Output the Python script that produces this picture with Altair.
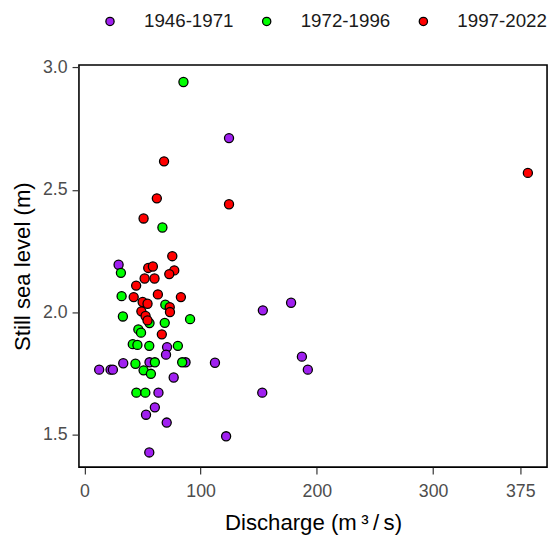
import altair as alt
import pandas as pd

periods = ["1946-1971", "1972-1996", "1997-2022"]
colors = ["#A020F0", "#00FF00", "#FF0000"]

p1_x = [29.4, 12.7, 22.5, 24.5, 33.4, 56.0, 87.0, 112.3, 71.1, 70.2, 76.8, 63.7,
        60.6, 53.0, 70.8, 55.8, 124.4, 153.5, 177.8, 187.1, 192.2, 153.0, 121.9]
p1_y = [2.194, 1.766, 1.766, 1.766, 1.792, 1.796, 1.796, 1.794, 1.858, 1.827, 1.734, 1.672,
        1.612, 1.582, 1.550, 1.428, 2.711, 2.008, 2.039, 1.819, 1.766, 1.672, 1.494]

p2_x = [85.2, 67.1, 31.4, 32.0, 69.6, 33.1, 56.0, 69.1, 90.9, 46.4, 48.7, 41.6,
        45.6, 55.8, 80.4, 43.9, 60.6, 84.1, 50.9, 57.2, 44.7, 52.4]
p2_y = [2.940, 2.346, 2.161, 2.066, 2.031, 1.983, 1.956, 1.957, 1.972, 1.930, 1.917, 1.870,
        1.867, 1.863, 1.863, 1.790, 1.796, 1.796, 1.763, 1.749, 1.672, 1.672]

p3_x = [68.5, 62.3, 50.9, 124.4, 381.5, 75.6, 54.9, 58.9, 77.3, 73.0, 51.8, 60.3,
        44.5, 42.4, 63.2, 83.0, 50.1, 54.3, 73.4, 73.6, 49.0, 52.6, 54.3, 66.6]
p3_y = [2.616, 2.465, 2.383, 2.441, 2.569, 2.229, 2.181, 2.187, 2.171, 2.156, 2.138, 2.138,
        2.109, 2.062, 2.073, 2.062, 2.042, 2.035, 2.021, 2.001, 2.004, 1.985, 1.967, 1.910]

x_ticks = [0, 100, 200, 300, 375]
y_ticks = [1.5, 2.0, 2.5, 3.0]

rows = []
for per, xs, ys in zip(periods, [p1_x, p2_x, p3_x], [p1_y, p2_y, p3_y]):
    for a, b in zip(xs, ys):
        rows.append({"Discharge": a, "Level": b, "Period": per})
df = pd.DataFrame(rows)
df["order"] = range(len(df))

font = "Liberation Sans"

chart = alt.Chart(df).mark_point(
    filled=True, size=85, stroke="black", strokeWidth=1.3, opacity=1
).encode(
    x=alt.X("Discharge:Q",
            scale=alt.Scale(domain=[-4.7, 398], nice=False, zero=False),
            axis=alt.Axis(values=x_ticks, title="Discharge (m\u2009³\u2009/\u2009s)", grid=False,
                          domain=False, tickColor="#333333", tickSize=7, tickWidth=1.2,
                          labelColor="#4d4d4d", labelFontSize=18, labelFont=font,
                          titleFont=font, titleFontSize=22.5, titleFontWeight="normal",
                          titleColor="black", labelPadding=9, titlePadding=11)),
    y=alt.Y("Level:Q",
            scale=alt.Scale(domain=[1.368, 3.009], nice=False, zero=False),
            axis=alt.Axis(values=y_ticks, format=".1f", title="Still sea level (m)",
                          grid=False, domain=False, tickColor="#333333", tickSize=7,
                          tickWidth=1.2,
                          labelColor="#4d4d4d", labelFontSize=18, labelFont=font,
                          titleFont=font, titleFontSize=22.5, titleFontWeight="normal",
                          titleColor="black", labelPadding=5, titlePadding=8)),
    color=alt.Color("Period:N",
                    scale=alt.Scale(domain=periods, range=colors),
                    legend=alt.Legend(title=None, orient="none", direction="horizontal",
                                      legendX=22, legendY=-54, labelFont=font,
                                      labelFontSize=19, labelColor="#1a1a1a",
                                      symbolType="circle", symbolSize=70,
                                      symbolStrokeColor="black", symbolStrokeWidth=1.3,
                                      symbolOpacity=1, labelOffset=25,
                                      columnPadding=24)),
    order=alt.Order("order:Q"),
).properties(
    width=475, height=408,
    autosize=alt.AutoSizeParams(type="none"),
    padding={"left": 72, "top": 54, "right": 3, "bottom": 70},
).configure(
    background="white"
).configure_view(
    stroke="black", strokeWidth=1.6
)

chart.save("out.html", embed_options={"renderer": "svg", "actions": False})
